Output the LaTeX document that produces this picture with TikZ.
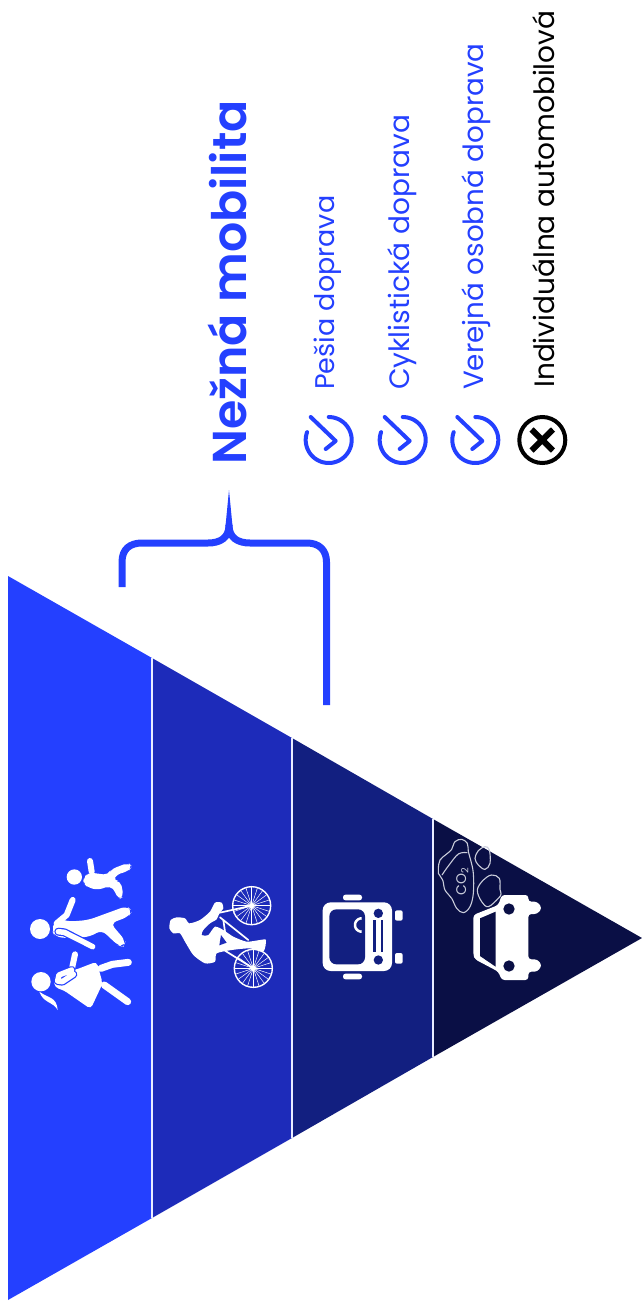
\documentclass[tikz,border=0pt]{standalone}
\usepackage{fontspec}
\setmainfont{Poppins}
\newfontfamily\popsemi{Poppins SemiBold}
\definecolor{b1}{HTML}{2440FF}
\definecolor{b2}{HTML}{1D2BBA}
\definecolor{b3}{HTML}{121F80}
\definecolor{b4}{HTML}{0A0F45}
\definecolor{cloudline}{HTML}{C9CCDA}
\tikzset{
  level/.style={fill=#1,draw=none},
  divider/.style={draw=white!90!b1,line width=2.4pt},
  limb/.style={draw=white,line cap=round,line join=round,line width=#1},
  halo/.style={draw=b1,line cap=round,line join=round,line width=#1},
  lbl/.style={rotate=90,anchor=base west,inner sep=0pt,text=b1},
  cloudo/.style={draw=cloudline,line width=1.1pt},
}
\newcommand{\checkmk}[2]{%
  \draw[b1,line width=4pt,line cap=round] plot[domain=-90:200,samples=50] ({#1+23*cos(\x)},{#2+23*sin(\x)});
  \draw[b1,line width=4pt,line cap=round,line join=round] (#1-18,#2-23) -- (#1+7,#2+1) -- (#1-3,#2+9);
}
\begin{document}
\begin{tikzpicture}[x=1pt,y=-1pt]
\useasboundingbox (0,0) rectangle (642,1304);
% pyramid
\fill[level=b1] (8,576) -- (152,658) -- (152,1218) -- (8,1300) -- cycle;
\fill[level=b2] (152,658) -- (292,738) -- (292,1138) -- (152,1218) -- cycle;
\fill[level=b3] (292,738) -- (433,819) -- (433,1057) -- (292,1138) -- cycle;
\fill[level=b4] (433,819) -- (642,938) -- (433,1057) -- cycle;
\draw[divider] (152,658) -- (152,1218);
\draw[divider] (292,738) -- (292,1138);
\draw[divider] (433,819) -- (433,1057);
% pedestrians
\begin{scope}[shift={(25,855)},scale=1/3]
  % child
  \fill[white] (148,66) circle (23);
  \draw[limb=6pt] (195,18) -- (200,50);
  \fill[white,rounded corners=5pt] (175,70) -- (190,52) -- (250,60) -- (258,43) -- (310,23) -- (322,35) -- (310,48) -- (272,60) -- (265,78) -- (287,78) -- (296,125) -- (280,134) -- (268,105) -- (255,92) -- (220,105) -- (190,98) -- (175,85) -- cycle;
  % adult
  \fill[white] (45,222) circle (30);
  \draw[limb=6pt] (143,135) -- (125,180) -- (95,205);
  \fill[white,rounded corners=6pt] (80,225) -- (90,200) -- (110,193) -- (130,200) -- (190,195) -- (305,153) -- (322,168) -- (310,185) -- (257,205) -- (302,258) -- (295,275) -- (280,272) -- (230,225) -- (195,245) -- (130,250) -- (90,245) -- cycle;
  \draw[halo=8pt] (100,230) -- (118,232) -- (203,275);
  \draw[limb=5.5pt] (100,230) -- (118,232) -- (203,275);
  % woman
  \fill[white] (48,380) circle (29);
  \fill[white] (43,410) .. controls (70,430) and (95,425) .. (98,465) .. controls (85,440) and (55,445) .. cycle;
  \draw[limb=7pt] (228,340) -- (262,328) -- (310,322);
  \draw[limb=7pt] (238,390) -- (308,440);
  \fill[white,rounded corners=4pt] (85,370) -- (100,350) -- (150,345) -- (215,320) -- (233,385) -- (197,462) -- (115,405) -- (90,398) -- cycle;
  \draw[limb=6pt] (150,298) -- (140,345);
  \draw[halo=8pt] (140,345) -- (102,360) -- (98,378) -- (112,380) -- (145,358);
  \draw[limb=5.5pt] (140,345) -- (102,360) -- (98,378) -- (112,380) -- (145,358);
\end{scope}
% cyclist
\begin{scope}[shift={(160,880)},scale=1/3]
  \foreach \cx/\cy in {275/77,280/265}{
    \draw[white,line width=1.4pt] (\cx,\cy) circle (57);
    \foreach \a in {0,18,...,342}
      \draw[white,line width=.5pt] (\cx,\cy) -- ++({\a}:55);
    \fill[white] (\cx,\cy) circle (8);
  }
  \draw[limb=1.7pt] (170,100) -- (275,77);
  \draw[limb=1.7pt] (180,112) -- (265,180);
  \draw[limb=1.7pt] (195,212) -- (280,265);
  \draw[limb=1.7pt] (190,120) -- (200,190);
  \fill[white] plot[smooth cycle,tension=.4] coordinates {(32,120) (50,112) (75,115) (88,130) (120,120) (150,95) (165,68) (185,68) (190,85) (178,100) (170,118) (150,130) (130,150) (125,165) (145,165) (165,140) (190,150) (220,170) (260,185) (300,180) (318,180) (310,215) (270,205) (215,210) (170,220) (165,245) (135,250) (100,225) (75,185) (60,160) (40,160) (28,145)};
  \fill[b2] (183,165) -- (200,188) -- (178,196) -- cycle;
\end{scope}
% bus
\begin{scope}[shift={(300,820)},scale=1/3]
  \fill[white,rounded corners=8pt] (68,247) rectangle (276,453);
  \fill[b3,rounded corners=7pt] (88,268) rectangle (195,433);
  \fill[white,rounded corners=2.5pt] (129,224) rectangle (186,241);
  \fill[white,rounded corners=2.5pt] (129,461) rectangle (186,478);
  \fill[white,rounded corners=2pt] (285,271) rectangle (308,302);
  \fill[white,rounded corners=2pt] (285,399) rectangle (308,431);
  \fill[b3] (235,280) circle (14);
  \fill[b3] (235,420) circle (14);
  \fill[b3] (219,300) rectangle (228,396);
  \fill[b3] (242,300) rectangle (250,396);
  \draw[white,line width=2.5pt] plot[domain=90:270,samples=20] ({185+20*cos(\x)},{315+20*sin(\x)});
\end{scope}
% car and cloud
\begin{scope}[shift={(430,830)},scale=1/3]
  \fill[white,rounded corners=3pt] (130,255) -- (205,225) -- (215,195) -- (295,195) -- (295,215) -- (322,215) -- (336,234) -- (322,252) -- (295,252) -- (295,388) -- (322,388) -- (336,406) -- (322,425) -- (295,425) -- (295,450) -- (215,450) -- (205,425) -- (135,388) -- (130,375) -- cycle;
  \fill[b4] (150,265) -- (197,245) -- (197,410) -- (150,378) -- cycle;
  \fill[b4] (237,237) circle (17);
  \fill[b4] (237,408) circle (17);
  \draw[cloudo] plot[smooth cycle,tension=.6] coordinates {(25,115) (30,90) (50,72) (65,58) (75,35) (95,28) (112,40) (115,65) (122,90) (130,130) (130,190) (120,230) (100,248) (80,235) (65,205) (45,180) (38,150) (25,130)};
  \draw[cloudo] plot[smooth,tension=.6] coordinates {(36,135) (55,108) (85,72) (112,68)};
  \draw[cloudo] plot[smooth cycle,tension=.6] coordinates {(135,85) (145,62) (165,50) (178,60) (180,100) (165,118) (145,105)};
  \draw[cloudo] plot[smooth cycle,tension=.6] coordinates {(142,180) (160,150) (185,135) (208,145) (210,178) (213,192) (205,205) (175,230) (155,215)};
  \node[rotate=90,text=cloudline,inner sep=0pt,font=\fontsize{14}{15}\selectfont] (co) at (97,155) {CO\textsubscript{2}};
\end{scope}
% brace
\fill[b1] (225.5,526) -- (229,490) -- (232.5,526) -- cycle;
\draw[b1,line width=7pt] (122,587) -- (122,562) .. controls (122,549) and (130,543) .. (142,543) -- (208,543) .. controls (220,543) and (229,538) .. (229,525);
\draw[b1,line width=7pt] (229,525) .. controls (229,538) and (238,543) .. (250,543) -- (307,543) .. controls (319,543) and (326.5,550) .. (326.5,562) -- (326.5,705);
% title and list
\node[lbl,font=\popsemi\fontsize{47.5}{50}\selectfont] (title) at (246,465) {Nežná mobilita};
\node[lbl,font=\fontsize{27}{30}\selectfont] (t1) at (334.5,390) {Pešia doprava};
\node[lbl,font=\fontsize{28}{30}\selectfont] (t2) at (409.5,390) {Cyklistická doprava};
\node[lbl,font=\fontsize{27.8}{30}\selectfont] (t3) at (483.5,390) {Verejná osobná doprava};
\node[lbl,text=black,font=\fontsize{28}{30}\selectfont] (t4) at (554,388) {Individuálna automobilová};
\checkmk{328.7}{440}
\checkmk{402.7}{440}
\checkmk{475.3}{440}
\draw[black,line width=4pt] (542.3,440) circle (23);
\draw[black,line width=6pt] (531.5,429.5) -- (553,450.5);
\draw[black,line width=6pt] (553,429.5) -- (531.5,450.5);
\end{tikzpicture}
\end{document}
